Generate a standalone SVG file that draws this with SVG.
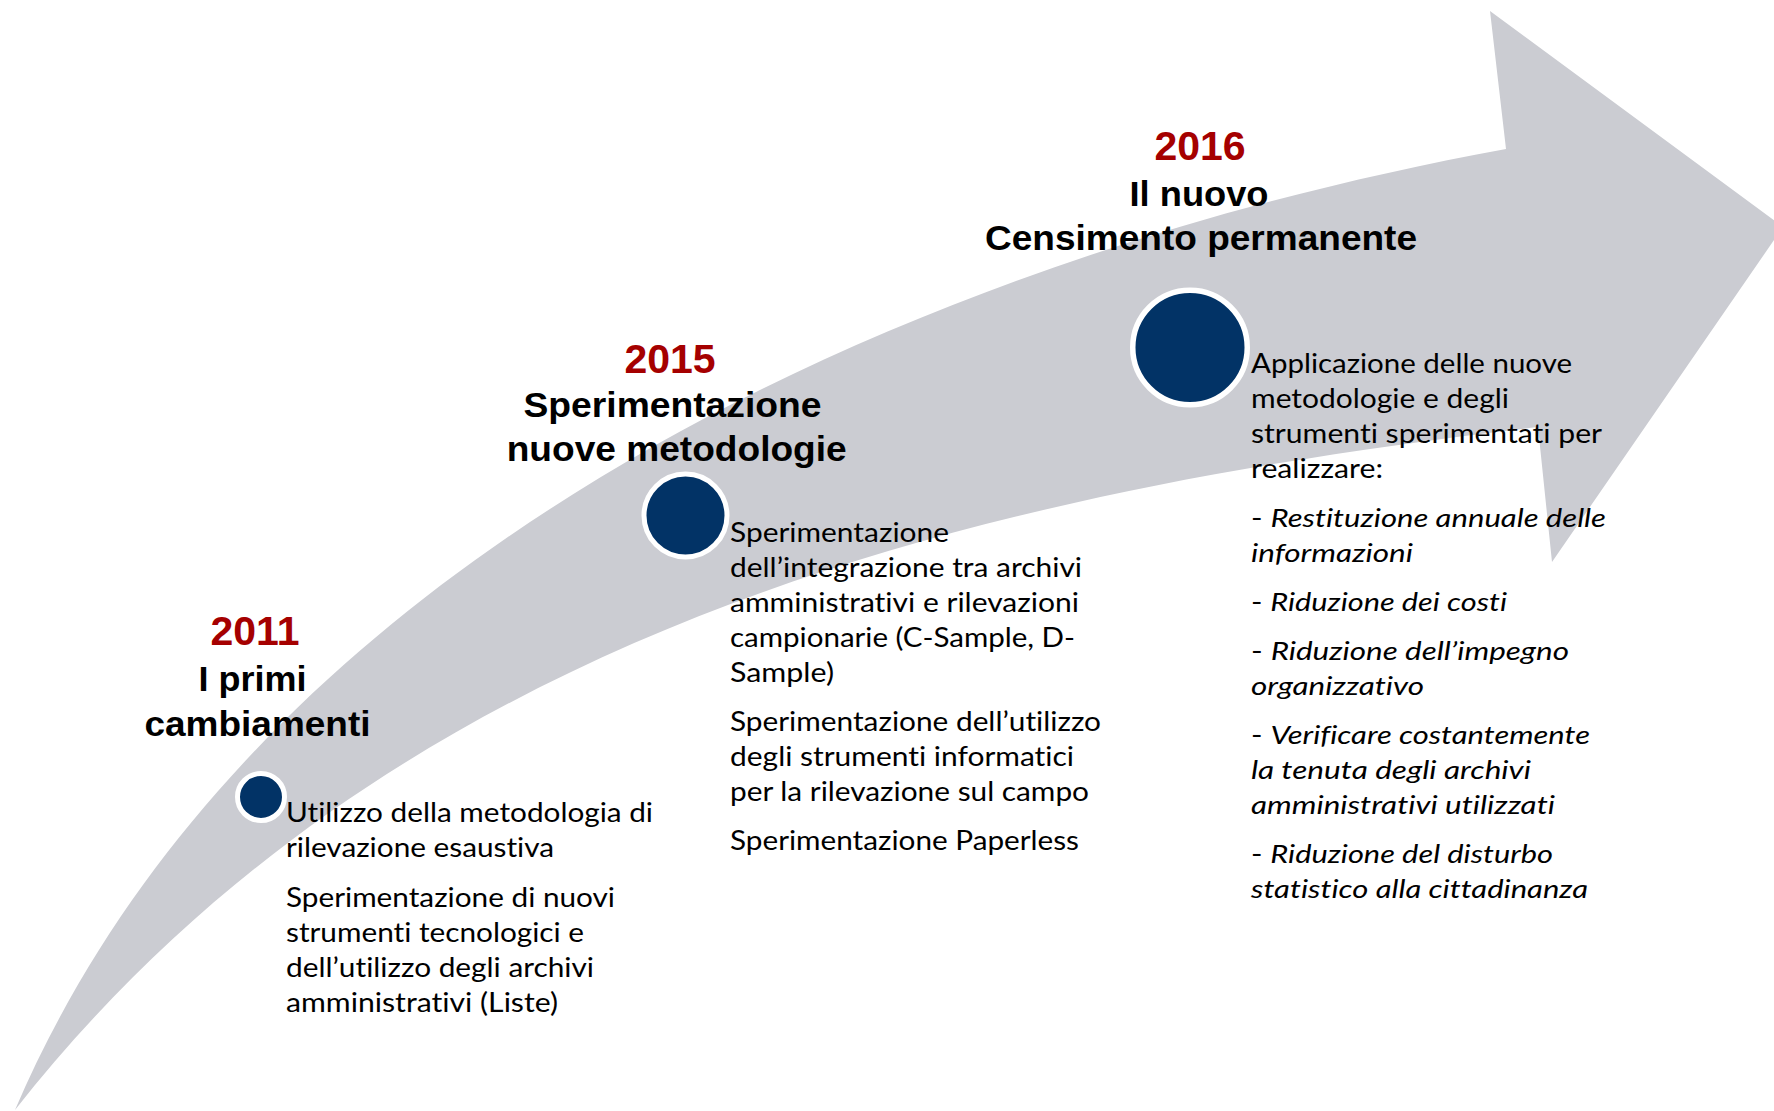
<svg xmlns="http://www.w3.org/2000/svg" width="1774" height="1111" viewBox="0 0 1774 1111">
<style>
.yr{font-family:"Liberation Sans",Arial,sans-serif;font-weight:bold;font-size:41px;fill:#A50000;text-anchor:middle}
.hd{font-family:"Liberation Sans",Arial,sans-serif;font-weight:bold;font-size:35px;fill:#000;text-anchor:middle}
.bd{font-family:Lato,"Open Sans",sans-serif;font-size:26px;fill:#000;font-variant-ligatures:none;font-feature-settings:"liga" 0,"clig" 0,"dlig" 0}
.it{font-style:italic}
.dot{fill:#023366;stroke:#fff}
</style>
<rect width="1774" height="1111" fill="#fff"/>
<g id="arrow">
<path d="M15,1110 C250,560 900,260 1506,149 L1490,11 L1783,227 L1552,562 L1538,427 C1000,490 400,620 15,1110 Z" fill="#CBCCD2"/>
</g>
<g id="node-2011">
<circle class="dot" cx="261" cy="797" r="23.5" stroke-width="5"/>
<text class="yr" x="255" y="645">2011</text>
<text class="hd" x="252.5" y="691" textLength="108" lengthAdjust="spacingAndGlyphs">I primi</text>
<text class="hd" x="257.5" y="736" textLength="226" lengthAdjust="spacingAndGlyphs">cambiamenti</text>
<text class="bd" x="286" y="822" textLength="367" lengthAdjust="spacingAndGlyphs">Utilizzo della metodologia di</text>
<text class="bd" x="286" y="857" textLength="268" lengthAdjust="spacingAndGlyphs">rilevazione esaustiva</text>
<text class="bd" x="286" y="906.5" textLength="329" lengthAdjust="spacingAndGlyphs">Sperimentazione di nuovi</text>
<text class="bd" x="286" y="941.5" textLength="298" lengthAdjust="spacingAndGlyphs">strumenti tecnologici e</text>
<text class="bd" x="286" y="976.5" textLength="308" lengthAdjust="spacingAndGlyphs">dell’utilizzo degli archivi</text>
<text class="bd" x="286" y="1011.5" textLength="272" lengthAdjust="spacingAndGlyphs">amministrativi (Liste)</text>
</g>
<g id="node-2015">
<circle class="dot" cx="685.5" cy="515.5" r="41.5" stroke-width="5"/>
<text class="yr" x="670" y="373">2015</text>
<text class="hd" x="672.5" y="417" textLength="298" lengthAdjust="spacingAndGlyphs">Sperimentazione</text>
<text class="hd" x="676.7" y="461" textLength="340" lengthAdjust="spacingAndGlyphs">nuove metodologie</text>
<text class="bd" x="730" y="541.5" textLength="219" lengthAdjust="spacingAndGlyphs">Sperimentazione</text>
<text class="bd" x="730" y="576.5" textLength="352" lengthAdjust="spacingAndGlyphs">dell’integrazione tra archivi</text>
<text class="bd" x="730" y="611.5" textLength="349" lengthAdjust="spacingAndGlyphs">amministrativi e rilevazioni</text>
<text class="bd" x="730" y="646.5" textLength="345" lengthAdjust="spacingAndGlyphs">campionarie (C-Sample, D-</text>
<text class="bd" x="730" y="681.5" textLength="104" lengthAdjust="spacingAndGlyphs">Sample)</text>
<text class="bd" x="730" y="730.5" textLength="371" lengthAdjust="spacingAndGlyphs">Sperimentazione dell’utilizzo</text>
<text class="bd" x="730" y="765.5" textLength="344" lengthAdjust="spacingAndGlyphs">degli strumenti informatici</text>
<text class="bd" x="730" y="800.5" textLength="359" lengthAdjust="spacingAndGlyphs">per la rilevazione sul campo</text>
<text class="bd" x="730" y="849.5" textLength="349" lengthAdjust="spacingAndGlyphs">Sperimentazione Paperless</text>
</g>
<g id="node-2016">
<circle class="dot" cx="1190" cy="347.5" r="57.25" stroke-width="5.5"/>
<text class="yr" x="1200" y="160">2016</text>
<text class="hd" x="1199" y="206" textLength="139" lengthAdjust="spacingAndGlyphs">Il nuovo</text>
<text class="hd" x="1201" y="250" textLength="432" lengthAdjust="spacingAndGlyphs">Censimento permanente</text>
<text class="bd" x="1251" y="373" textLength="321" lengthAdjust="spacingAndGlyphs">Applicazione delle nuove</text>
<text class="bd" x="1251" y="408" textLength="258" lengthAdjust="spacingAndGlyphs">metodologie e degli</text>
<text class="bd" x="1251" y="443" textLength="351" lengthAdjust="spacingAndGlyphs">strumenti sperimentati per</text>
<text class="bd" x="1251" y="478" textLength="132" lengthAdjust="spacingAndGlyphs">realizzare:</text>
<text class="bd" x="1251" y="527" textLength="355" lengthAdjust="spacingAndGlyphs">- <tspan class="it">Restituzione annuale delle</tspan></text>
<text class="bd it" x="1251" y="562" textLength="162" lengthAdjust="spacingAndGlyphs">informazioni</text>
<text class="bd" x="1251" y="611" textLength="256" lengthAdjust="spacingAndGlyphs">- <tspan class="it">Riduzione dei costi</tspan></text>
<text class="bd" x="1251" y="660" textLength="318" lengthAdjust="spacingAndGlyphs">- <tspan class="it">Riduzione dell’impegno</tspan></text>
<text class="bd it" x="1251" y="695" textLength="173" lengthAdjust="spacingAndGlyphs">organizzativo</text>
<text class="bd" x="1251" y="744" textLength="339" lengthAdjust="spacingAndGlyphs">- <tspan class="it">Verificare costantemente</tspan></text>
<text class="bd it" x="1251" y="779" textLength="280" lengthAdjust="spacingAndGlyphs">la tenuta degli archivi</text>
<text class="bd it" x="1251" y="814" textLength="304" lengthAdjust="spacingAndGlyphs">amministrativi utilizzati</text>
<text class="bd" x="1251" y="863" textLength="302" lengthAdjust="spacingAndGlyphs">- <tspan class="it">Riduzione del disturbo</tspan></text>
<text class="bd it" x="1251" y="898" textLength="337" lengthAdjust="spacingAndGlyphs">statistico alla cittadinanza</text>
</g>
</svg>
